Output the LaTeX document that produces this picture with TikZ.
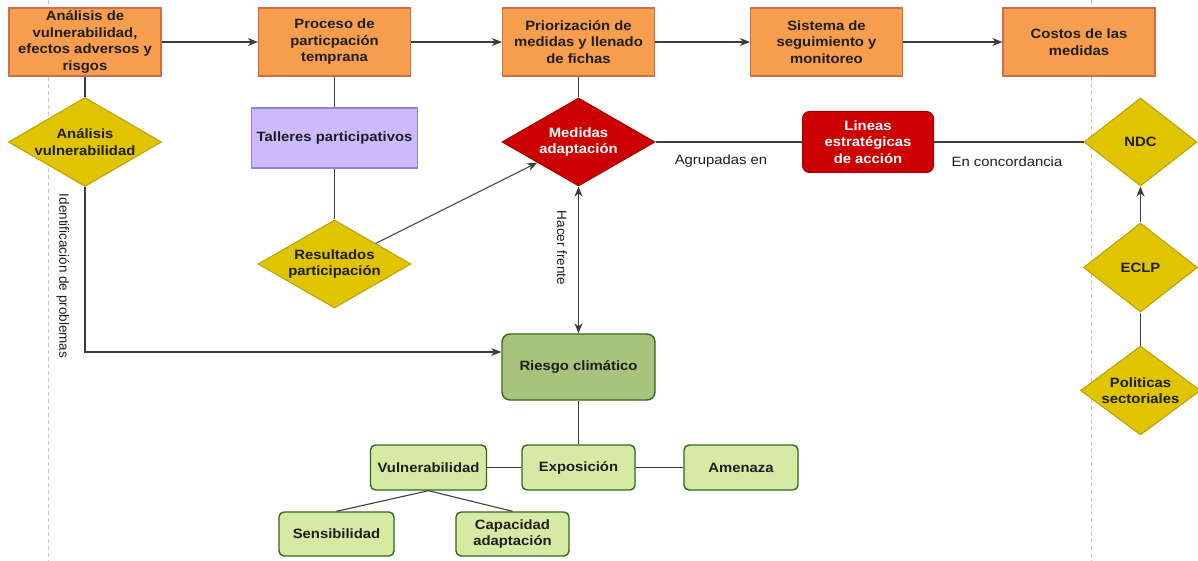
\documentclass[tikz,border=0pt]{standalone}
\usepackage{fontspec}
\setmainfont[FakeStretch=1.1]{Liberation Sans}
\newfontfamily\rotfont{Liberation Sans}
\usetikzlibrary{shapes.geometric,arrows.meta}
\definecolor{orfill}{RGB}{247,158,78}
\definecolor{ordraw}{RGB}{205,110,70}
\definecolor{yefill}{RGB}{224,196,0}
\definecolor{yedraw}{RGB}{185,160,0}
\definecolor{lvfill}{RGB}{204,186,255}
\definecolor{lvdraw}{RGB}{145,130,210}
\definecolor{rdfill}{RGB}{204,0,0}
\definecolor{rddraw}{RGB}{160,0,0}
\definecolor{rgfill}{RGB}{168,196,124}
\definecolor{gndraw}{RGB}{45,105,30}
\definecolor{lgfill}{RGB}{214,234,164}
\definecolor{txt}{RGB}{30,30,30}
\definecolor{lnc}{RGB}{60,60,60}
\definecolor{dashc}{RGB}{200,200,200}
\tikzset{
  lbl/.style={font=\fontsize{13.5}{16.5}\selectfont\bfseries, text=txt, align=center, inner sep=0pt},
  obox/.style={lbl, rectangle, draw=ordraw, fill=orfill, line width=1.2pt, minimum width=152pt, minimum height=68pt},
  ydia/.style={lbl, diamond, aspect=1.72, draw=yedraw, fill=yefill, line width=1pt},
  rdia/.style={lbl, diamond, aspect=1.72, draw=rddraw, fill=rdfill, line width=1pt, text=white},
  lvbox/.style={lbl, rectangle, draw=lvdraw, fill=lvfill, line width=1.2pt, minimum width=166pt, minimum height=60pt},
  rdbox/.style={lbl, rectangle, rounded corners=7pt, draw=rddraw, fill=rdfill, line width=1pt, text=white, minimum width=131pt, minimum height=61pt},
  rgbox/.style={lbl, rectangle, rounded corners=8pt, draw=gndraw, fill=rgfill, line width=1.4pt, minimum width=153pt, minimum height=66pt},
  gbox/.style={lbl, rectangle, rounded corners=5pt, draw=gndraw, fill=lgfill, line width=1.4pt, minimum width=114pt, minimum height=45pt},
  ln/.style={draw=lnc, line width=1.1pt},
  arr/.style={ln, -{Stealth[length=10pt,width=8pt,inset=3pt]}},
  darr/.style={ln, {Stealth[length=10pt,width=8pt,inset=3pt]}-{Stealth[length=10pt,width=8pt,inset=3pt]}},
  elbl/.style={font=\fontsize{13.5}{16}\selectfont, text=txt, inner sep=0pt},
  rlbl/.style={font=\rotfont\fontsize{13.5}{16}\selectfont, text=txt, inner sep=0pt, rotate=-90},
  guide/.style={draw=dashc, line width=0.8pt, dash pattern=on 4pt off 3pt}
}
\begin{document}
\begin{tikzpicture}[x=1pt,y=-1pt]
\useasboundingbox (0,0) rectangle (1198,561);
\fill[white] (0,0) rectangle (1198,561);
\draw[guide] (48,0) -- (48,561);
\draw[guide] (1091,0) -- (1091,561);

% top row
\node[obox] (b1) at (85,42) {Análisis de\\vulnerabilidad,\\efectos adversos y\\risgos};
\node[obox] (b2) at (334.5,42) {Proceso de\\particpación\\temprana};
\node[obox] (b3) at (578.5,42) {Priorización de\\medidas y llenado\\de fichas};
\node[obox] (b4) at (826.5,42) {Sistema de\\seguimiento y\\monitoreo};
\node[obox] (b5) at (1079,42) {Costos de las\\medidas};

% diamonds
\node[ydia, minimum width=153pt, minimum height=89pt] (av) at (85,142) {Análisis\\vulnerabilidad};
\node[ydia, minimum width=153pt, minimum height=88pt] (res) at (334.5,264) {Resultados\\participación};
\node[rdia, minimum width=153pt, minimum height=88pt] (med) at (578.5,142) {Medidas\\adaptación};
\node[ydia, aspect=1.28, minimum width=113pt, minimum height=88pt] (ndc) at (1140.5,142) {NDC};
\node[ydia, aspect=1.28, minimum width=114pt, minimum height=89pt] (eclp) at (1140.5,267.5) {ECLP};
\node[ydia, aspect=1.35, minimum width=120pt, minimum height=89pt] (pol) at (1140.5,390.5) {Politicas\\sectoriales};

% boxes
\node[lvbox] (tal) at (334.5,138) {Talleres participativos};
\node[rdbox] (lin) at (868,142) {Lineas\\estratégicas\\de acción};
\node[rgbox] (rie) at (578.5,367) {Riesgo climático};
\node[gbox, minimum width=116pt] (vul) at (428.5,467.5) {Vulnerabilidad};
\node[gbox, minimum width=113pt] (exp) at (578.5,467.5) {Exposición};
\node[gbox] (ame) at (741,467.5) {Amenaza};
\node[gbox, minimum width=115pt, minimum height=44pt] (sen) at (336.5,534) {Sensibilidad};
\node[gbox, minimum width=113pt, minimum height=44pt] (cap) at (512.5,534) {Capacidad\\adaptación};

% top arrows
\draw[arr] (b1.east) -- (b2.west);
\draw[arr] (b2.east) -- (b3.west);
\draw[arr] (b3.east) -- (b4.west);
\draw[arr] (b4.east) -- (b5.west);

% plain links
\draw[ln] (b1.south) -- (av.north);
\draw[ln] (b2.south) -- (tal.north);
\draw[ln] (tal.south) -- (res.north);
\draw[ln] (b3.south) -- (med.north);

% identification
\draw[arr] (av.south) |- ([yshift=15pt]rie.west);
\node[rlbl] (idl) at (63,276) {Identificación de problemas};

% results -> medidas
\draw[arr] (res) -- (med);

% hacer frente
\draw[darr] (med.south) -- (rie.north);
\node[rlbl] (hfl) at (562,248) {Hacer frente};

% right chain
\draw[ln] (med.east) -- (lin.west);
\node[elbl] (agl) at (721,161) {Agrupadas en};
\draw[ln] (lin.east) -- (ndc.west);
\node[elbl] (ecl) at (1007,162) {En concordancia};
\draw[arr] (eclp.north) -- (ndc.south);
\draw[ln] (pol.north) -- (eclp.south);

% risk tree
\draw[ln] (rie.south) -- (exp.north);
\draw[ln] (vul.east) -- (exp.west);
\draw[ln] (exp.east) -- (ame.west);
\draw[ln] (vul.south) -- (sen.north);
\draw[ln] (vul.south) -- (cap.north);
\end{tikzpicture}
\end{document}
